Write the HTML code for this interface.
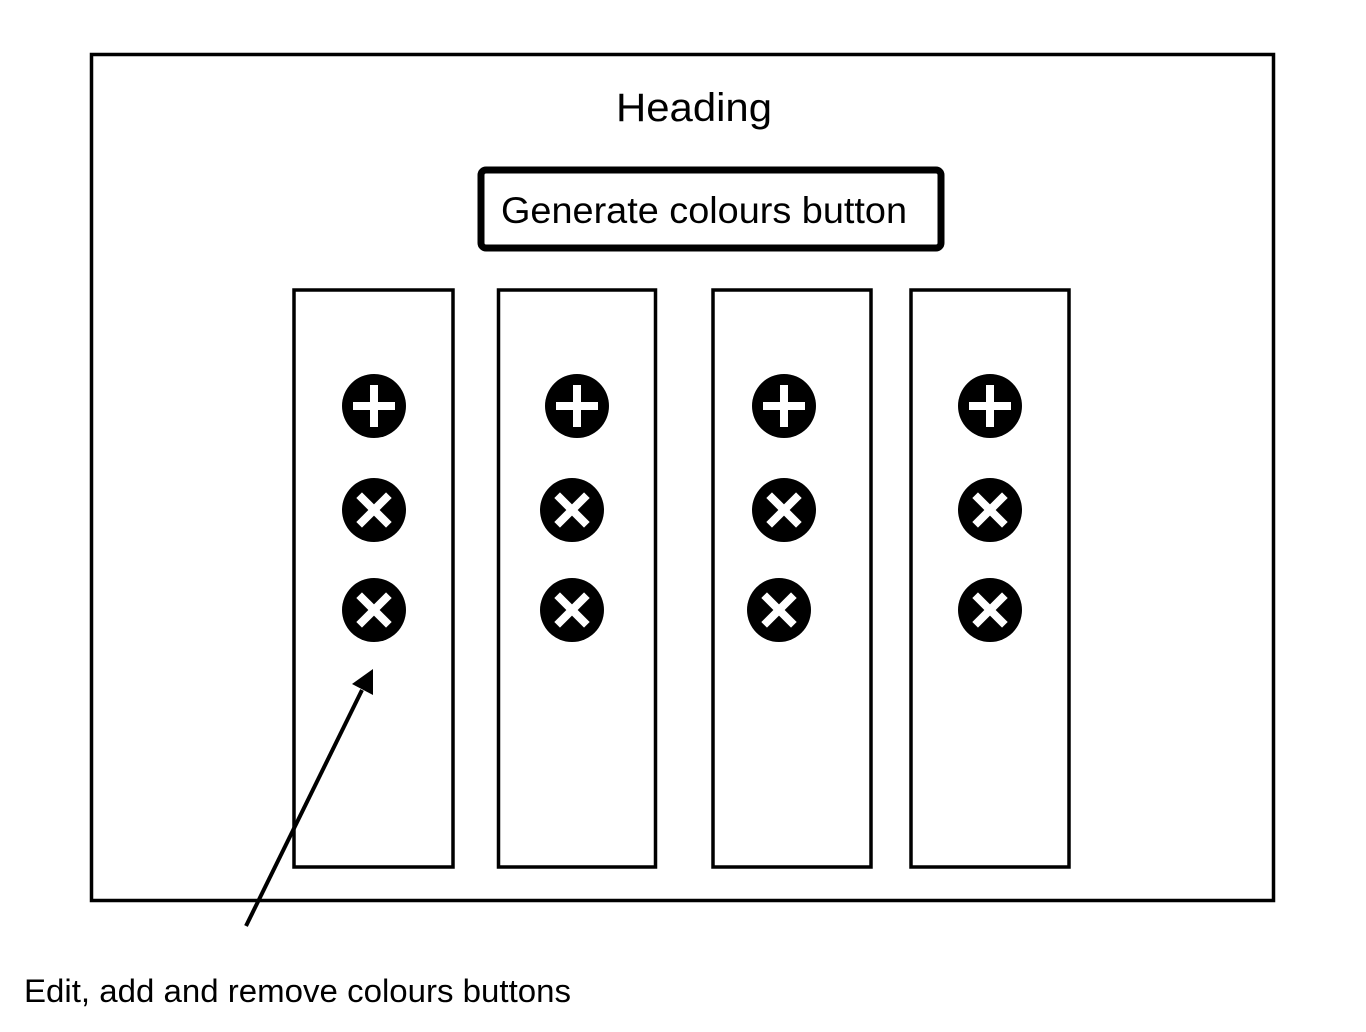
<!DOCTYPE html>
<html><head><meta charset="utf-8"><style>
html,body{margin:0;padding:0;background:#fff;}
svg{display:block;}
text{font-family:"Liberation Sans",Arial,sans-serif;fill:#000;}
</style></head><body>
<svg width="1366" height="1032" viewBox="0 0 1366 1032" xmlns="http://www.w3.org/2000/svg">
<defs>
<g id="plus"><circle r="32" fill="#000"/><rect x="-21" y="-4" width="42" height="8" fill="#fff"/><rect x="-4" y="-21" width="8" height="42" fill="#fff"/></g>
<g id="x"><circle r="32" fill="#000"/><g transform="rotate(45)"><rect x="-21" y="-4" width="42" height="8" fill="#fff"/><rect x="-4" y="-21" width="8" height="42" fill="#fff"/></g></g>
</defs>
<rect x="91.5" y="54.5" width="1182" height="846" fill="none" stroke="#000" stroke-width="3.5"/>
<text x="694" y="121" font-size="40" text-anchor="middle" textLength="156" lengthAdjust="spacingAndGlyphs">Heading</text>
<rect x="481" y="170" width="460" height="78" rx="5" fill="none" stroke="#000" stroke-width="7"/>
<text x="501" y="223" font-size="37" textLength="406" lengthAdjust="spacingAndGlyphs">Generate colours button</text>
<g fill="none" stroke="#000" stroke-width="3.5">
<rect x="294" y="290" width="159" height="577"/>
<rect x="498.5" y="290" width="157" height="577"/>
<rect x="713" y="290" width="158" height="577"/>
<rect x="911" y="290" width="158" height="577"/>
</g>
<use href="#plus" x="374" y="406"/><use href="#x" x="374" y="510"/><use href="#x" x="374" y="610"/>
<use href="#plus" x="577" y="406"/><use href="#x" x="572" y="510"/><use href="#x" x="572" y="610"/>
<use href="#plus" x="784" y="406"/><use href="#x" x="784" y="510"/><use href="#x" x="779" y="610"/>
<use href="#plus" x="990" y="406"/><use href="#x" x="990" y="510"/><use href="#x" x="990" y="610"/>
<line x1="246" y1="926" x2="362" y2="690" stroke="#000" stroke-width="4"/>
<polygon points="373,669 373,695 352,684" fill="#000"/>
<text x="24" y="1002" font-size="32" textLength="547" lengthAdjust="spacingAndGlyphs">Edit, add and remove colours buttons</text>
</svg>
</body></html>
